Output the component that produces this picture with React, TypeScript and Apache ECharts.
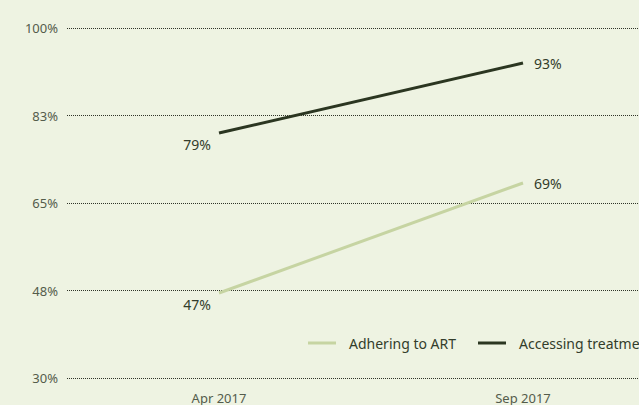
import React, { useEffect, useRef } from "react";
import * as echarts from "echarts";

const categories = ["Apr 2017", "Sep 2017"];
const adheringToART = [47, 69];
const accessingTreatment = [79, 93];
const yTicks = [30, 47.5, 65, 82.5, 100];

const BG = "#eef3e2";
const DARK = "#2b3621";
const LIGHT = "#c6d4a2";
const TEXT = "#545c4b";
const FONT = "Noto Sans";

function makeData(values: number[]) {
  return values.map((v, i) => ({
    value: v,
    label:
      i === 0
        ? { show: true, position: "bottom", distance: 4, offset: [-22, 0] }
        : { show: true, position: "right", distance: 11 },
  }));
}

export default function App() {
  const ref = useRef<HTMLDivElement>(null);
  useEffect(() => {
    if (!ref.current) return;
    const chart = echarts.init(ref.current, undefined, { renderer: "svg" });
    const labelStyle = {
      color: "#333d2b",
      fontSize: 14,
      fontFamily: FONT,
      formatter: (p: any) => `${p.value}%`,
    };
    chart.setOption({
      animation: false,
      backgroundColor: BG,
      textStyle: { fontFamily: FONT },
      grid: { left: 67, right: 25, top: 28, bottom: 27, containLabel: false },
      legend: {
        left: 303,
        top: 331,
        itemWidth: 28,
        itemHeight: 3,
        itemGap: 22,
        icon: "rect",
        textStyle: { color: "#333d2b", fontSize: 14, fontFamily: FONT, padding: [0, 0, 0, 8] },
        data: ["Adhering to ART", "Accessing treatment"],
      },
      xAxis: {
        type: "category",
        data: categories,
        boundaryGap: true,
        axisLine: { show: false },
        axisTick: { show: false },
        axisLabel: { color: TEXT, fontSize: 13, fontFamily: FONT, margin: 13 },
      },
      yAxis: {
        type: "value",
        min: 30,
        max: 100,
        interval: 17.5,
        axisLine: { show: false },
        axisTick: { show: false },
        axisLabel: {
          color: TEXT,
          fontSize: 13,
          fontFamily: FONT,
          margin: 9,
          formatter: (v: number) => `${Math.round(v)}%`,
        },
        splitLine: { show: true, lineStyle: { color: "#2f3428", type: [1, 1], width: 1 } },
      },
      series: [
        {
          name: "Adhering to ART",
          type: "line",
          data: makeData(adheringToART),
          symbol: "circle",
          symbolSize: 0,
          lineStyle: { color: LIGHT, width: 3 },
          itemStyle: { color: LIGHT },
          label: labelStyle,
        },
        {
          name: "Accessing treatment",
          type: "line",
          data: makeData(accessingTreatment),
          symbol: "circle",
          symbolSize: 0,
          lineStyle: { color: DARK, width: 3 },
          itemStyle: { color: DARK },
          label: labelStyle,
        },
      ],
    });
    return () => chart.dispose();
  }, []);
  return (
    <div
      style={{
        position: "fixed",
        left: 0,
        top: 0,
        width: 639,
        height: 405,
        overflow: "hidden",
        background: BG,
      }}
    >
      <div ref={ref} style={{ width: 700, height: 405 }} />
    </div>
  );
}
